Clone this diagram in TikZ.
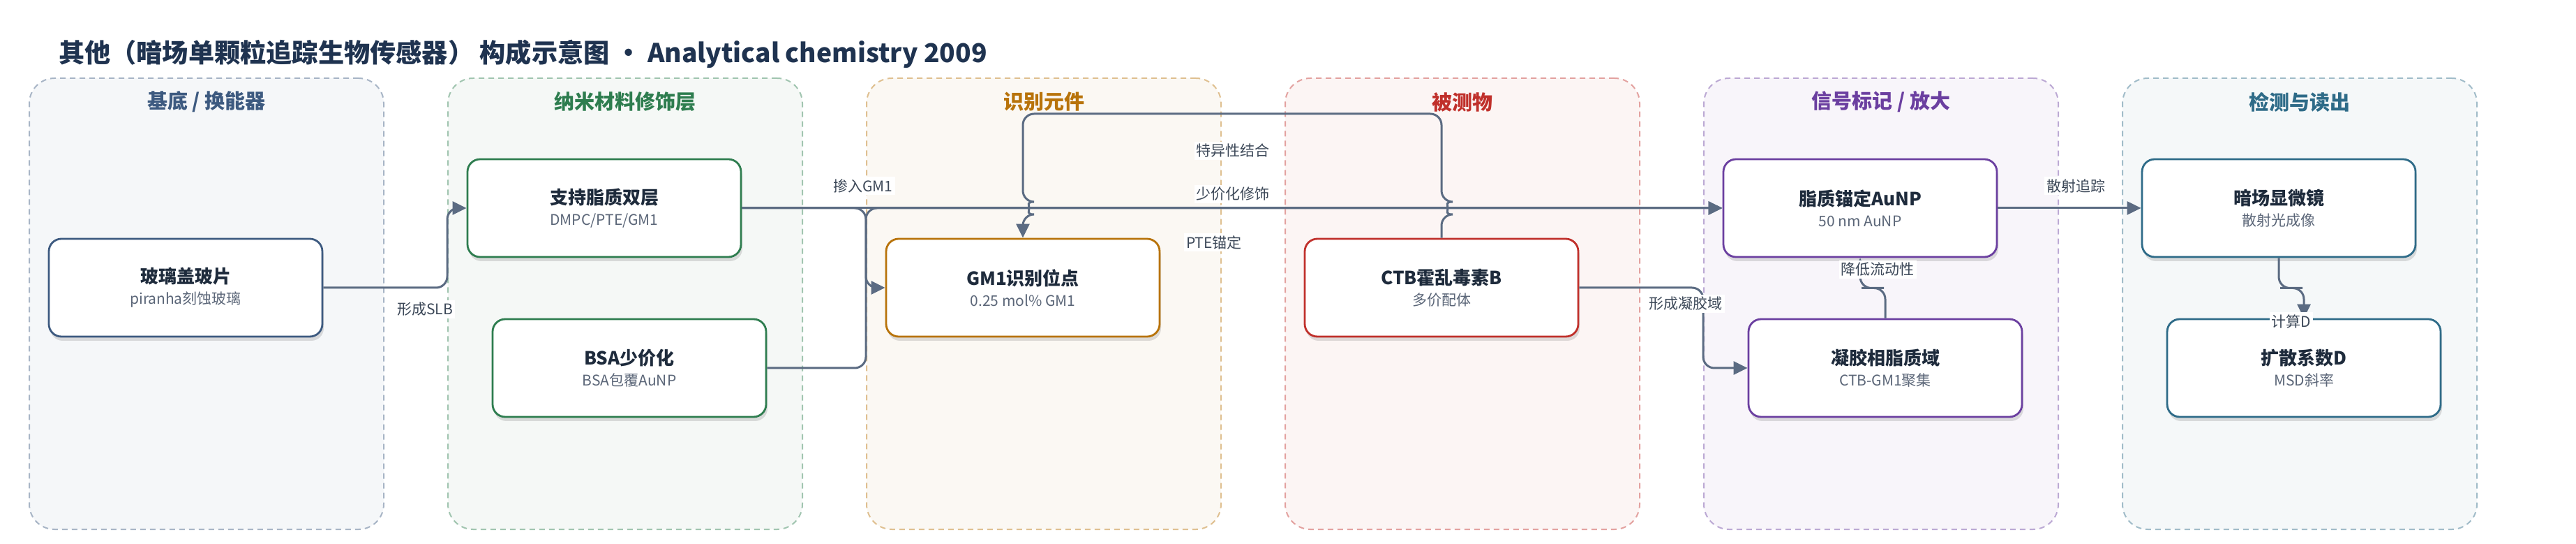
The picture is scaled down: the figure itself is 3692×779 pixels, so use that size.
\documentclass[tikz,border=0pt]{standalone}
\usepackage{fontspec}
\setmainfont{Noto Sans CJK SC}
\usepackage{xcolor}
\usepackage{tikz}
\usetikzlibrary{arrows.meta,calc,shadows}

\definecolor{cA}{HTML}{3D5A80}
\definecolor{cB}{HTML}{2E7D4F}
\definecolor{cC}{HTML}{B8730A}
\definecolor{cD}{HTML}{C0302B}
\definecolor{cE}{HTML}{6B3FA0}
\definecolor{cF}{HTML}{2E6B88}
\definecolor{edgecol}{HTML}{5B6B82}
\definecolor{labelcol}{HTML}{3C4858}
\definecolor{headcol}{HTML}{1F3350}
\definecolor{maincol}{HTML}{1E2B3C}
\definecolor{subcol}{HTML}{5B6678}

\newcommand{\twoline}[2]{{\fontsize{13}{15}\selectfont\bfseries\color{maincol}#1}\\[3pt]{\fontsize{10.5}{12}\selectfont\color{subcol}#2}}

\begin{document}
\begin{tikzpicture}[x=0.5pt,y=-0.5pt,
panel/.style={draw=#1!45,fill=#1!5,dash pattern=on 4pt off 3pt,line width=1pt,rounded corners=18pt,minimum width=254pt,minimum height=323pt},
ptitle/.style={text=#1,font=\fontsize{14.5}{16}\selectfont\bfseries},
box/.style={draw=#1,line width=1.4pt,fill=white,rounded corners=9pt,minimum width=196pt,minimum height=70pt,align=center,
  drop shadow={shadow xshift=1pt,shadow yshift=-3pt,opacity=.12,fill=black}},
conn/.style={draw=edgecol,line width=1.5pt,rounded corners=8pt,-{Triangle[length=10pt,width=9.5pt]}},
elabel/.style={fill=white,text=labelcol,font=\fontsize{10.5}{12}\selectfont,inner sep=1.5pt}
]
\useasboundingbox (0,0) rectangle (3692,779);

\node[anchor=west,text=headcol,font=\fontsize{18.6}{21}\selectfont\bfseries] (title) at (77,77)
  {其他（暗场单颗粒追踪生物传感器） 构成示意图 · Analytical chemistry 2009};

% columns
\foreach \nm/\cx/\col/\ttl in {pA/296/cA/{基底 / 换能器},pB/896/cB/纳米材料修饰层,pC/1496/cC/识别元件,
  pD/2096/cD/被测物,pE/2696/cE/{信号标记 / 放大},pF/3296/cF/检测与读出}{
  \node[panel=\col] (\nm) at (\cx,435) {};
  \node[ptitle=\col] (\nm-t) at (\cx,146) {\ttl};
}

\node[box=cA] (glass) at (266,412) {\twoline{玻璃盖玻片}{piranha刻蚀玻璃}};
\node[box=cB] (slb) at (866,298) {\twoline{支持脂质双层}{DMPC/PTE/GM1}};
\node[box=cB] (bsa) at (902,527) {\twoline{BSA少价化}{BSA包覆AuNP}};
\node[box=cC] (gm1) at (1466,412) {\twoline{GM1识别位点}{0.25 mol\% GM1}};
\node[box=cD] (ctb) at (2066,412) {\twoline{CTB霍乱毒素B}{多价配体}};
\node[box=cE] (aunp) at (2666,298) {\twoline{脂质锚定AuNP}{50 nm AuNP}};
\node[box=cE] (gel) at (2702,527) {\twoline{凝胶相脂质域}{CTB-GM1聚集}};
\node[box=cF] (dfm) at (3266,298) {\twoline{暗场显微镜}{散射光成像}};
\node[box=cF] (diff) at (3302,527) {\twoline{扩散系数D}{MSD斜率}};

\coordinate (bus) at (0,163);

% connectors
\draw[conn] (glass.east) -| (pB.west |- slb.west) -- (slb.west);
\draw[conn] (slb.east) -| (pC.west |- gm1.west) -- (gm1.west);
\draw[conn] (bsa.east) -| (pC.west |- aunp.west) -- (aunp.west);
\draw[conn] (slb.east) -- (aunp.west);
\draw[conn] (ctb.north) -- ($(ctb.north |- slb.east)+(0,9)$) arc[start angle=-90,end angle=90,radius=4.5pt]
  -- (ctb.north |- bus) -- (gm1.north |- bus) -- ($(gm1.north |- slb.east)+(0,-9)$)
  arc[start angle=90,end angle=-90,radius=4.5pt] -- (gm1.north);
\draw[conn] (ctb.east) -| (pE.west |- gel.west) -- (gel.west);
\draw[conn] (gel.north) |- ($(gel.north)!.5!(aunp.south)$) -| (aunp.south);
\draw[conn] (aunp.east) -- (dfm.west);
\draw[conn] (dfm.south) |- ($(dfm.south)!.5!(diff.north)$) -| (diff.north);

% edge labels
\node[elabel] (l-slb) at (609,443) {形成SLB};
\node[elabel] (l-gm1) at (1237,266) {掺入GM1};
\node[elabel] (l-bind) at (1767,216) {特异性结合};
\node[elabel] (l-bsa) at (1767,278) {少价化修饰};
\node[elabel] (l-pte) at (1740,347) {PTE锚定};
\node[elabel] (l-gel) at (2416,435) {形成凝胶域};
\node[elabel] (l-flow) at (2691,386) {降低流动性};
\node[elabel] (l-scat) at (2975,266) {散射追踪};
\node[elabel] (l-d) at (3284,460) {计算D};
\end{tikzpicture}
\end{document}
